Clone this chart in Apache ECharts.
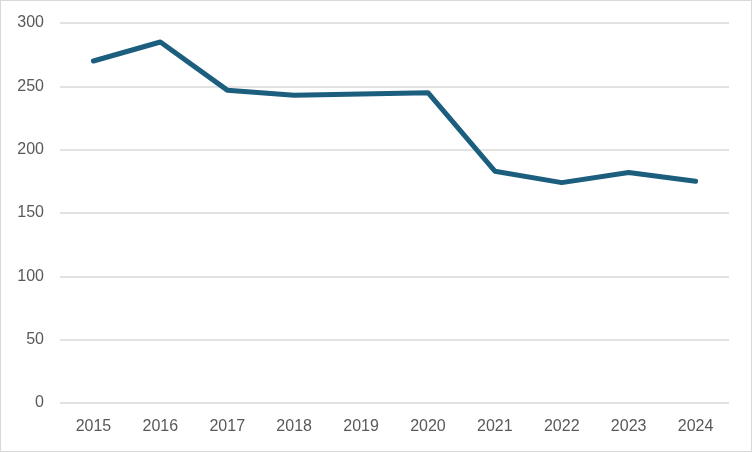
<!DOCTYPE html>
<html><head><meta charset="utf-8">
<script src="https://cdn.jsdelivr.net/npm/echarts@6/dist/echarts.min.js"></script>
<style>html,body{margin:0;padding:0;background:#fff}#c{width:750px;height:450px;border:1px solid #d9d9d9}</style>
</head><body><div id="c"></div>
<script>
const categories = ['2015','2016','2017','2018','2019','2020','2021','2022','2023','2024'];
const values = [270, 285, 247, 243, 244, 245, 183, 174, 182, 175];
const yTicks = [0, 50, 100, 150, 200, 250, 300];
const chart = echarts.init(document.getElementById('c'));
const font = '"Liberation Sans Narrow", "Liberation Sans", Arial, sans-serif';
chart.setOption({
  animation: false,
  grid: {left: 59, right: 22, top: 22, bottom: 48, containLabel: false},
  xAxis: {type: 'category', data: categories, boundaryGap: true,
    axisLine: {show: false}, axisTick: {show: false},
    axisLabel: {color: '#595959', fontSize: 16, fontFamily: font, margin: 16}},
  yAxis: {type: 'value', min: yTicks[0], max: yTicks[yTicks.length-1], interval: 50,
    axisLine: {show: false}, axisTick: {show: false},
    splitLine: {lineStyle: {color: '#d9d9d9', width: 1.5}},
    axisLabel: {color: '#595959', fontSize: 16, fontFamily: font, margin: 16}},
  series: [{type: 'line', data: values, symbol: 'none',
    lineStyle: {color: '#1b5e7e', width: 5, join: 'round', cap: 'round'}}]
});
</script></body></html>
